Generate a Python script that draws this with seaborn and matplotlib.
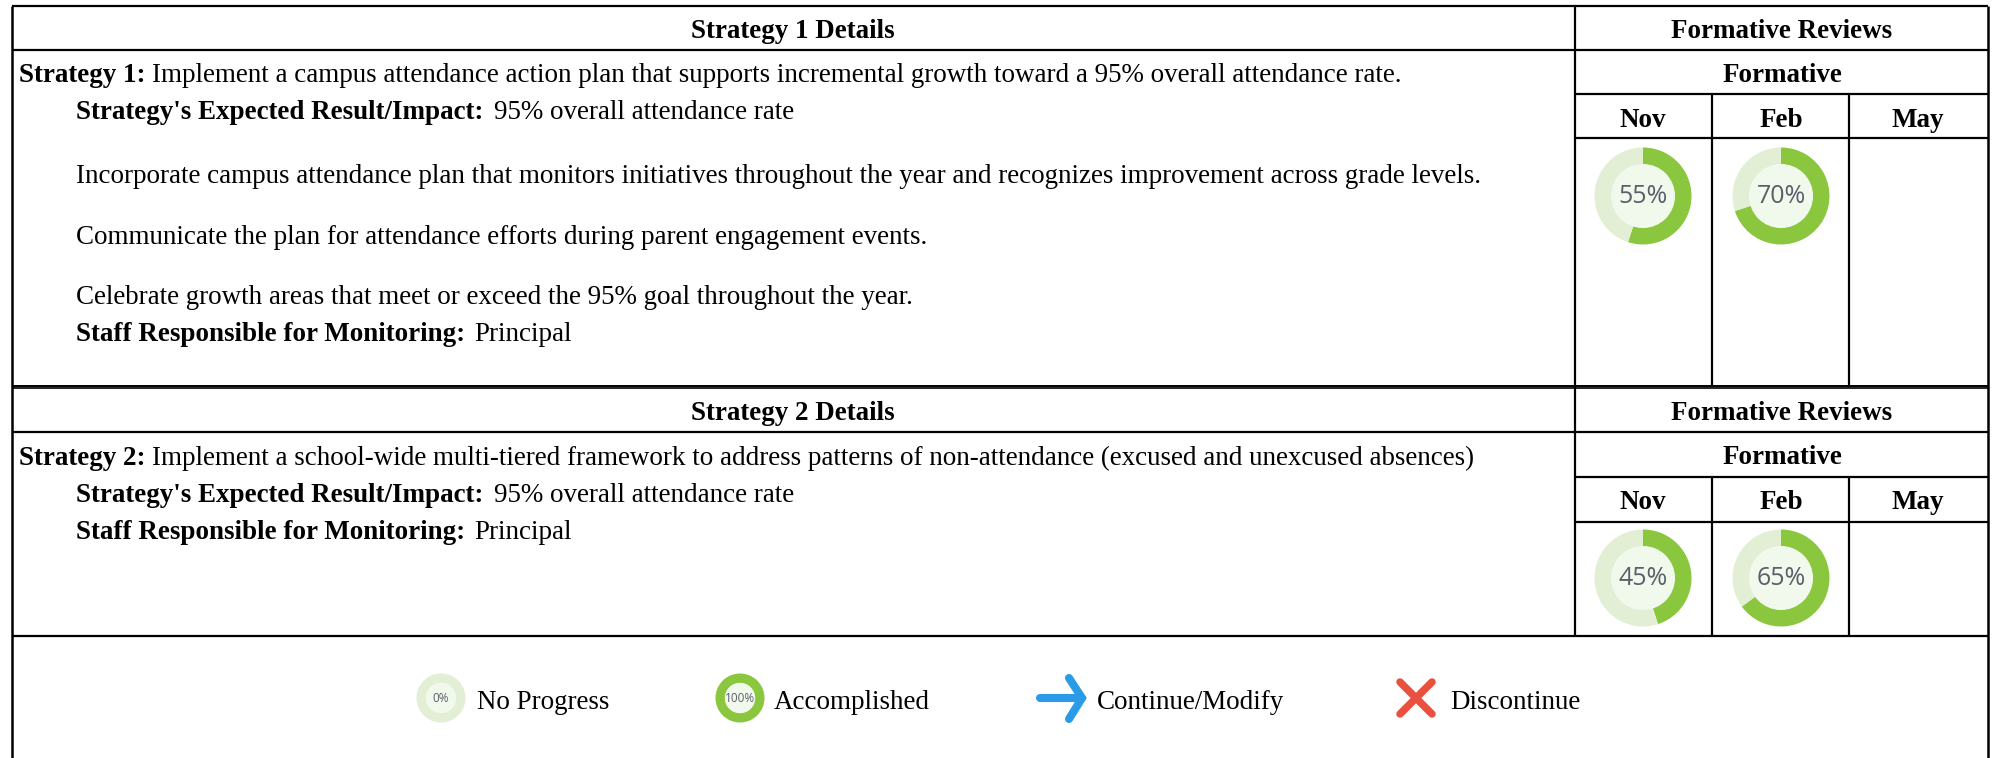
import matplotlib
matplotlib.use("Agg")
import matplotlib.pyplot as plt
from matplotlib.patches import Circle
import seaborn as sns

# ---------------- Data ----------------
months = ["Nov", "Feb", "May"]
strategy1_progress = [55, 70]
strategy2_progress = [45, 65]
legend_labels = ["No Progress", "Accomplished", "Continue/Modify", "Discontinue"]
legend_progress = [0, 100]

strategy1_title = "Implement a campus attendance action plan that supports incremental growth toward a 95% overall attendance rate."
strategy2_title = "Implement a school-wide multi-tiered framework to address patterns of non-attendance (excused and unexcused absences)"
expected_result = "95% overall attendance rate"
staff = "Principal"
strategy1_items = [
    "Incorporate campus attendance plan that monitors initiatives throughout the year and recognizes improvement across grade levels.",
    "Communicate the plan for attendance efforts during parent engagement events.",
    "Celebrate growth areas that meet or exceed the 95% goal throughout the year.",
]

# ---------------- Settings ----------------
sns.set_theme(style="white")
plt.rcParams['font.family'] = ['Liberation Serif', 'DejaVu Serif']

W, H = 1993, 758
FS = 19.45
GREEN, LIGHT, INNER = "#8AC73F", "#E2EFD5", "#F1F8EC"
BLUE, RED = "#2A9BE6", "#E9503E"

fig = plt.figure(figsize=(W / 100, H / 100), dpi=100, facecolor="white")
ax = fig.add_axes([0, 0, 1, 1])
ax.set_xlim(0, W)
ax.set_ylim(H, 0)
ax.axis("off")


def hline(y, x0=12, x1=1988, lw=1.6, color="black"):
    ax.plot([x0, x1], [y, y], color=color, lw=lw, solid_capstyle="butt")


def vline(x, y0, y1, lw=1.6, color="black"):
    ax.plot([x, x], [y0, y1], color=color, lw=lw, solid_capstyle="butt")


def label(x, y, s, bold=False, ha="left", size=FS):
    ax.text(x, y, s, ha=ha, va="baseline", fontsize=size, color="black",
            fontweight="bold" if bold else "normal")


def donut(cx, cy, value, r=48.5, hole=0.66, size=18):
    # separate axes so the pie keeps its clockwise direction
    box = [(cx - r) / W, 1 - (cy + r) / H, 2 * r / W, 2 * r / H]
    dax = fig.add_axes(box)
    dax.pie([value, 100 - value], colors=[GREEN, LIGHT], startangle=90,
            counterclock=False, radius=1,
            wedgeprops={"width": 1 - hole + 0.01, "linewidth": 0})
    dax.add_patch(Circle((0, 0), hole, color=INNER, lw=0))
    dax.set_xlim(-1, 1)
    dax.set_ylim(-1, 1)
    dax.axis("off")
    dax.text(0, -0.01, f"{value}%", ha="center", va="center", fontsize=size,
             color="#59606A", family=["Open Sans", "DejaVu Sans"])


# ---------------- Table rules ----------------
hline(50)
hline(432)
hline(6)
hline(386, lw=1.4)
hline(388, lw=1.4, color="#222222")
hline(636)
for y in [94, 138, 477, 522]:
    hline(y, x0=1575)
vline(12, 6, H, lw=1.8)
vline(1988, 6, H, lw=1.8)
vline(1575, 6, 636)
for y0, y1 in [(94, 386), (477, 636)]:
    vline(1712, y0, y1)
    vline(1849, y0, y1)

# ---------------- Header rows ----------------
month_x = [1643, 1781, 1918]
for n, (base, top) in enumerate([(38, 0), (420, 382)]):
    label(793, base, f"Strategy {n + 1} Details", bold=True, ha="center")
    label(1782, base, "Formative Reviews", bold=True, ha="center")
    label(1782, top + 82, "Formative", bold=True, ha="center")
    for x, m in zip(month_x, months):
        label(x, top + 127, m, bold=True, ha="center")

# ---------------- Strategy text ----------------
label(19, 82, "Strategy 1:", bold=True)
label(152, 82, strategy1_title)
label(76, 119, "Strategy's Expected Result/Impact:", bold=True)
label(494, 119, expected_result)
for y, item in zip([183, 244, 304], strategy1_items):
    label(76, y, item)
label(76, 341, "Staff Responsible for Monitoring:", bold=True)
label(474, 341, staff)

label(19, 465, "Strategy 2:", bold=True)
label(152, 465, strategy2_title)
label(76, 502, "Strategy's Expected Result/Impact:", bold=True)
label(494, 502, expected_result)
label(76, 539, "Staff Responsible for Monitoring:", bold=True)
label(474, 539, staff)

# ---------------- Progress donuts ----------------
for x, v in zip(month_x, strategy1_progress):
    donut(x, 196, v)
for x, v in zip(month_x, strategy2_progress):
    donut(x, 578, v)

# ---------------- Legend ----------------
for x, v in zip([441, 740], legend_progress):
    donut(x, 698, v, r=24.5, hole=0.62, size=8.5)
for x, s in zip([477, 774, 1097, 1450], legend_labels):
    label(x, 709, s)

ax.plot([1040, 1082], [698, 698], color=BLUE, lw=5.8, solid_capstyle="round")
ax.plot([1069, 1082, 1069], [678, 698, 719], color=BLUE, lw=5.8,
        solid_capstyle="round", solid_joinstyle="miter")
ax.plot([1400, 1432], [682, 714], color=RED, lw=5.4, solid_capstyle="round")
ax.plot([1400, 1432], [714, 682], color=RED, lw=5.4, solid_capstyle="round")

fig.savefig("out.png", dpi=100)
